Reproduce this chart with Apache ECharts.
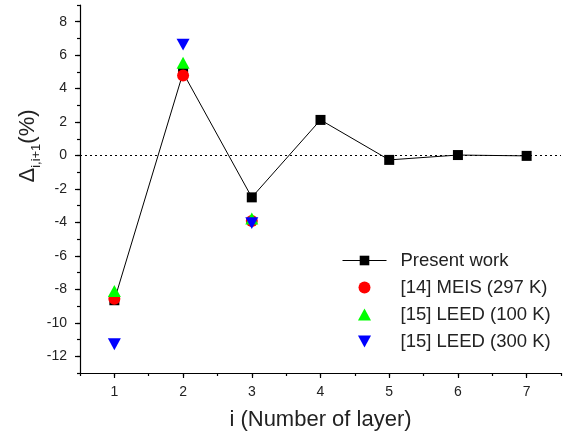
<!DOCTYPE html>
<html>
<head>
<meta charset="utf-8">
<script src="https://cdn.jsdelivr.net/npm/echarts@6/dist/echarts.min.js"></script>
<style>
  html, body { margin: 0; padding: 0; background: #fff; }
  #chart { width: 574px; height: 440px; }
</style>
</head>
<body>
<div id="chart"></div>
<script>
const layers = [1, 2, 3, 4, 5, 6, 7]
const presentWork = [-8.65, 4.95, -2.5, 2.13, -0.26, 0.03, -0.02]
const meis297 = [-8.56, 4.78, -3.92]
const leed100 = [-8.1, 5.55, -3.76]
const leed300 = [-11.28, 6.63, -4.04]

const xTicks = [1, 2, 3, 4, 5, 6, 7]
const yTicks = [-12, -10, -8, -6, -4, -2, 0, 2, 4, 6, 8]

const font = '"Liberation Sans", Arial, Helvetica, sans-serif'
const textColor = '#222'

const upTriangle = 'path://M6,0L12,11L0,11Z'
const downTriangle = 'path://M0,0L12,0L6,11Z'

const pairs = (vals) => vals.map((v, i) => [layers[i], v])

const chart = echarts.init(document.getElementById('chart'))

const option = {
  backgroundColor: '#fff',
  animation: false,
  grid: { left: 80, right: 13, top: 5, bottom: 67 },

  legend: {
    orient: 'vertical',
    left: 337,
    top: 246,
    itemWidth: 44,
    itemHeight: 12,
    itemGap: 8,
    symbolKeepAspect: true,
    lineStyle: { width: 1 },
    textStyle: { fontFamily: font, fontSize: 18.5, color: textColor, padding: [0, 0, 0, 9] },
    data: [
      { name: 'Present work' },
      { name: '[14] MEIS (297 K)' },
      { name: '[15] LEED (100 K)', icon: upTriangle },
      { name: '[15] LEED (300 K)', icon: downTriangle }
    ]
  },

  xAxis: [
    {
      type: 'value',
      min: 0.5,
      max: 7.5,
      name: 'i (Number of layer)',
      nameLocation: 'middle',
      nameGap: 36,
      nameTextStyle: { fontFamily: font, fontSize: 22, color: textColor },
      splitLine: { show: false },
      axisLine: { onZero: false, lineStyle: { color: '#000', width: 1.2 } },
      axisTick: { customValues: xTicks, length: 5, lineStyle: { color: '#000', width: 1.2 } },
      axisLabel: { customValues: xTicks, margin: 12, fontFamily: font, fontSize: 14, color: textColor }
    },
    {
      type: 'value',
      min: 0.5,
      max: 7.5,
      interval: 0.5,
      position: 'bottom',
      splitLine: { show: false },
      axisLine: { show: false, onZero: false },
      axisTick: { length: 3, lineStyle: { color: '#000', width: 1.2 } },
      axisLabel: { show: false }
    }
  ],

  yAxis: [
    {
      type: 'value',
      min: -13,
      max: 9,
      splitLine: { show: false },
      axisLine: { show: true, onZero: false, lineStyle: { color: '#000', width: 1.2 } },
      axisTick: { show: true, customValues: yTicks, length: 5, lineStyle: { color: '#000', width: 1.2 } },
      axisLabel: { customValues: yTicks, margin: 13, fontFamily: font, fontSize: 14, color: textColor }
    },
    {
      type: 'value',
      min: -13,
      max: 9,
      interval: 1,
      position: 'left',
      splitLine: { show: false },
      axisLine: { show: false, onZero: false },
      axisTick: { show: true, length: 3, lineStyle: { color: '#000', width: 1.2 } },
      axisLabel: { show: false }
    }
  ],

  // rotated y-axis title with subscript
  graphic: [
    {
      type: 'text',
      x: 28,
      y: 146,
      rotation: Math.PI / 2,
      style: {
        text: '{d|Δ}{s|i,i+1}{p|(%)}',
        align: 'center',
        verticalAlign: 'middle',
        fill: textColor,
        rich: {
          d: { fontFamily: font, fontSize: 22, lineHeight: 30, fill: textColor },
          s: { fontFamily: font, fontSize: 13, lineHeight: 13, verticalAlign: 'bottom', fill: textColor },
          p: { fontFamily: font, fontSize: 22, lineHeight: 30, fill: textColor }
        }
      }
    }
  ],

  series: [
    {
      name: 'Present work',
      type: 'line',
      data: pairs(presentWork),
      symbol: 'rect',
      symbolSize: 10,
      itemStyle: { color: '#000', opacity: 1 },
      lineStyle: { color: '#000', width: 1 },
      markLine: {
        silent: true,
        symbol: 'none',
        label: { show: false },
        lineStyle: { color: '#000', type: [2, 3], width: 1 },
        data: [{ yAxis: 0 }]
      },
      z: 2
    },
    {
      name: '[14] MEIS (297 K)',
      type: 'scatter',
      data: pairs(meis297),
      symbol: 'circle',
      symbolSize: 12,
      itemStyle: { color: '#ff0000', opacity: 1 },
      z: 3
    },
    {
      name: '[15] LEED (100 K)',
      type: 'scatter',
      data: pairs(leed100),
      symbol: upTriangle,
      symbolKeepAspect: true,
      symbolSize: 13,
      itemStyle: { color: '#00ff00', opacity: 1 },
      z: 4
    },
    {
      name: '[15] LEED (300 K)',
      type: 'scatter',
      data: pairs(leed300),
      symbol: downTriangle,
      symbolKeepAspect: true,
      symbolSize: 13,
      itemStyle: { color: '#0000ff', opacity: 1 },
      z: 5
    }
  ]
}

chart.setOption(option)
</script>
</body>
</html>
